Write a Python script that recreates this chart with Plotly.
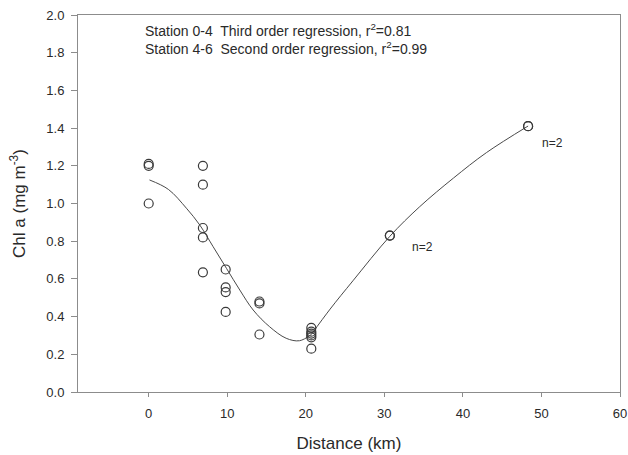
import plotly.graph_objects as go

# Chlorophyll a samples along the transect: distance from station 0 (km) and Chl a (mg m-3)
distance_km = [0, 0, 0,
               6.9, 6.9, 6.9, 6.9, 6.9,
               9.8, 9.8, 9.8, 9.8,
               14.1, 14.1, 14.1,
               20.7, 20.7, 20.7, 20.7, 20.7, 20.7,
               30.7, 30.7,
               48.3, 48.3]
chl_a = [1.21, 1.20, 1.00,
         1.20, 1.10, 0.87, 0.82, 0.635,
         0.65, 0.555, 0.53, 0.425,
         0.48, 0.47, 0.305,
         0.34, 0.32, 0.31, 0.30, 0.29, 0.23,
         0.83, 0.83,
         1.41, 1.41]

# Regression curves: stations 0-4 (third order) and stations 4-6 (second order)
fit1_km = [0.1, 2.5, 4.8, 6.5, 8.2, 9.9, 11.6, 13.3, 15.4, 17.5, 19.2, 20.7]
fit1_chl = [1.125, 1.075, 0.975, 0.886, 0.771, 0.656, 0.541, 0.435, 0.346, 0.285, 0.272, 0.305]
fit2_km = [20.7, 23.1, 26.0, 30.7, 34.5, 38.8, 43.0, 48.3]
fit2_chl = [0.305, 0.44, 0.59, 0.826, 0.983, 1.135, 1.27, 1.411]

x_ticks = [0, 10, 20, 30, 40, 50, 60]
y_ticks = [0.0, 0.2, 0.4, 0.6, 0.8, 1.0, 1.2, 1.4, 1.6, 1.8, 2.0]

fit_notes = ["Station 0-4  Third order regression, r<sup>2</sup>=0.81",
             "Station 4-6  Second order regression, r<sup>2</sup>=0.99"]
n_labels = ["n=2", "n=2"]
n_label_x = [30.7, 48.3]
n_label_y = [0.83, 1.41]

line_col = "#4a4a4a"
axis_col = "#8c8c8c"
text_col = "#2a2a2a"
font = "Liberation Sans, Arial, sans-serif"

fig = go.Figure()
for fx, fy in [(fit1_km, fit1_chl), (fit2_km, fit2_chl)]:
    fig.add_trace(go.Scatter(x=fx, y=fy, mode="lines",
                             line=dict(color=line_col, width=1, shape="spline", smoothing=1.0),
                             hoverinfo="skip"))
fig.add_trace(go.Scatter(x=distance_km, y=chl_a, mode="markers",
                         marker=dict(symbol="circle-open", size=9,
                                     color="#3a3a3a", line=dict(width=1.2))))

annotations = []
for i, note in enumerate(fit_notes):
    annotations.append(dict(xref="paper", yref="paper", x=0.12, y=0.960 - i * 0.047,
                            xanchor="left", yanchor="middle", showarrow=False,
                            text=note, font=dict(family=font, size=14, color=text_col)))
shifts = [(33, -11), (24, -17)]
for lab, lx, ly, (dx, dy) in zip(n_labels, n_label_x, n_label_y, shifts):
    annotations.append(dict(x=lx, y=ly, xref="x", yref="y", text=lab, showarrow=False,
                            xshift=dx, yshift=dy,
                            font=dict(family=font, size=12, color=text_col)))

fig.update_layout(
    width=628, height=455,
    margin=dict(l=78, r=8, t=15, b=63, autoexpand=False),
    paper_bgcolor="white", plot_bgcolor="white",
    showlegend=False,
    font=dict(family=font, color=text_col),
    annotations=annotations,
    xaxis=dict(range=[-9, 60], tickvals=x_ticks, ticks="outside", ticklen=4,
               tickcolor=axis_col, showline=True, linecolor=axis_col, linewidth=1,
               mirror=True, showgrid=False, zeroline=False, automargin=False,
               tickfont=dict(size=13, color=text_col), ticklabelstandoff=5,
               title=dict(text="Distance (km)", font=dict(size=17, color=text_col), standoff=17)),
    yaxis=dict(range=[0, 2.0], tickvals=y_ticks, tickformat=".1f", ticks="outside", ticklen=6,
               tickcolor=axis_col, showline=True, linecolor=axis_col, linewidth=1,
               mirror=True, showgrid=False, zeroline=False, automargin=False,
               tickfont=dict(size=13, color=text_col), ticklabelstandoff=4,
               title=dict(text="Chl a (mg m<sup>-3</sup>)", font=dict(size=17, color=text_col),
                          standoff=16)),
)

fig.write_html("out.html")
